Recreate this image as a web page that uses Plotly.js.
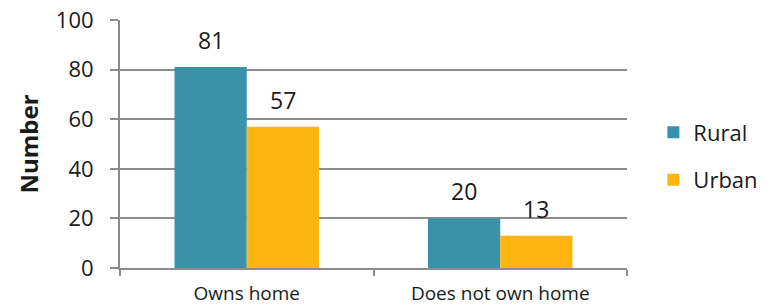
<!DOCTYPE html>
<html>
<head>
<meta charset="utf-8">
<script src="https://cdn.plot.ly/plotly-3.0.1.min.js"></script>
<style>html,body{margin:0;padding:0;background:#fff;}#chart{width:777px;height:305px;}</style>
</head>
<body>
<div id="chart"></div>
<script>
var categories = ["Owns home", "Does not own home"];
var seriesNames = ["Rural", "Urban"];
var rural = [81, 20];
var urban = [57, 13];
var yTicks = [0, 20, 40, 60, 80, 100];

var colors = ["#3A92A8", "#FDB60F"];
var FONT = "Open Sans, DejaVu Sans, sans-serif";

var traces = [rural, urban].map(function (vals, i) {
  return {
    type: "bar",
    name: seriesNames[i],
    x: categories,
    y: vals,
    marker: {color: colors[i]},
    legendgroup: "g" + i,
    hoverinfo: "none"
  };
});

var plotLeft = 120, plotRight = 627;
var plotW = plotRight - plotLeft;
var bargap = 0.43;
var barPx = plotW / categories.length * (1 - bargap) / 2;

var annotations = [];
[rural, urban].forEach(function (vals, i) {
  vals.forEach(function (v, j) {
    annotations.push({
      x: categories[j], y: v, xref: "x", yref: "y",
      text: String(v), showarrow: false,
      yanchor: "bottom", yshift: 9,
      xshift: (i === 0 ? -1 : 1) * barPx / 2,
      font: {family: FONT, size: 23, color: "#1a1a1a"}
    });
  });
});

var layout = {
  width: 777, height: 305,
  margin: {l: plotLeft, r: 777 - plotRight, t: 20, b: 37},
  paper_bgcolor: "#fff", plot_bgcolor: "#fff",
  barmode: "group", bargap: bargap, bargroupgap: 0,
  font: {family: FONT, color: "#1a1a1a"},
  showlegend: true,
  legend: {
    x: 1.052, xanchor: "left", y: 0.45, yanchor: "middle",
    traceorder: "grouped", tracegroupgap: 16,
    font: {family: FONT, size: 22, color: "#1a1a1a"},
    itemwidth: 30
  },
  xaxis: {
    type: "category",
    showline: true, linecolor: "#8c8c8c", linewidth: 2,
    ticks: "outside", tickson: "boundaries", ticklen: 6, tickcolor: "#8c8c8c", tickwidth: 2,
    ticklabelstandoff: 7,
    tickfont: {family: FONT, size: 19, color: "#1a1a1a"},
    showgrid: false, zeroline: false, fixedrange: true
  },
  yaxis: {
    range: [0, 100], tickvals: yTicks, ticktext: yTicks.map(String),
    showline: true, linecolor: "#8c8c8c", linewidth: 2,
    ticks: "outside", ticklen: 8, tickcolor: "#8c8c8c", tickwidth: 2,
    ticklabelstandoff: 12,
    showgrid: true, gridcolor: "#8c8c8c", gridwidth: 2,
    zeroline: false,
    tickfont: {family: FONT, size: 22, color: "#1a1a1a"},
    title: {text: "<b>Number</b>", font: {family: FONT, size: 24, color: "#1a1a1a"}, standoff: 10},
    fixedrange: true
  },
  annotations: annotations
};

Plotly.newPlot("chart", traces, layout, {displayModeBar: false, staticPlot: true});
</script>
</body>
</html>
